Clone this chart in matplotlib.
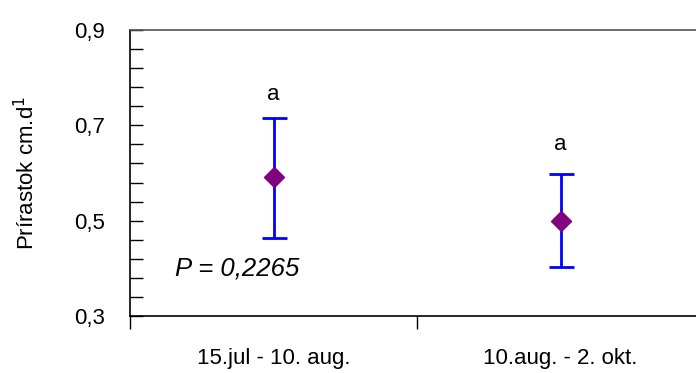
import matplotlib.pyplot as plt
from matplotlib.ticker import MultipleLocator, FuncFormatter

plt.rcParams["font.family"] = ["Liberation Sans", "DejaVu Sans"]

obdobia = ["15.jul - 10. aug.", "10.aug. - 2. okt."]
priemer = [0.592, 0.499]
horna = [0.716, 0.598]
dolna = [0.464, 0.402]
pismena = ["a", "a"]
pismena_y = [0.765, 0.659]

fig = plt.figure(figsize=(6.96, 3.73), dpi=100)
ax = fig.add_axes([0.1868, 0.1528, 0.8247, 0.7668])

x = list(range(len(obdobia)))
yerr = [[p - d for p, d in zip(priemer, dolna)], [h - p for h, p in zip(horna, priemer)]]
ax.errorbar(x, priemer, yerr=yerr, fmt="none", ecolor="#0000ff", elinewidth=2,
            capsize=9, capthick=2, zorder=2)
ax.plot(x, priemer, linestyle="none", marker="D", markersize=10, color="#800080",
        zorder=3)

for xi, lab, yl in zip(x, pismena, pismena_y):
    ax.text(xi, yl, lab, ha="center", va="center", fontsize=16)

ax.text(-0.127, 0.399, "P = 0,2265", ha="center", va="center", fontsize=18.5,
        style="italic")

ax.set_xlim(-0.5, 1.5)
ax.set_ylim(0.3, 0.9)
ax.yaxis.set_major_locator(MultipleLocator(0.2, offset=0.1))
ax.yaxis.set_minor_locator(MultipleLocator(0.04, offset=0.02))
ax.yaxis.set_major_formatter(FuncFormatter(lambda v, p: f"{v:.1f}".replace(".", ",")))
ax.tick_params(axis="y", which="both", direction="in", length=9, width=1,
               labelsize=16, pad=18)
ax.set_xticks([-0.5, 0.5])
ax.set_xticklabels([])
ax.set_xticks(x, minor=True)
ax.set_xticklabels(obdobia, minor=True)
ax.tick_params(axis="x", which="major", direction="out", length=9, width=1)
ax.tick_params(axis="x", which="minor", length=0, labelsize=16, pad=23)

ax.set_ylabel("Prírastok cm.d$^{1}$", fontsize=16, labelpad=25)

ax.spines["right"].set_visible(False)
ax.spines["top"].set_color("#555555")
for s in ["left", "bottom", "top"]:
    ax.spines[s].set_linewidth(1.2)

fig.savefig("out.png", dpi=100)
